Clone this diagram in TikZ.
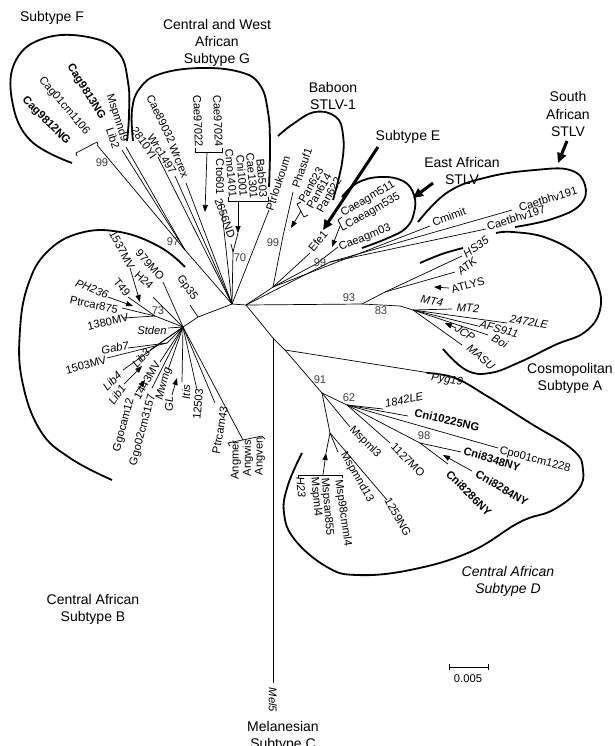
\documentclass[tikz,border=0pt]{standalone}
\usepackage{fontspec}
\setmainfont{Liberation Sans}
\usetikzlibrary{calc,arrows.meta}
\def\leaf{\node[leaf]}
\def\group{\node[group]}
\def\drawclade{\draw[clade]}
\def\drawpoint{\draw[point]}
\def\drawsame{\draw[same]}

\begin{document}
\begin{tikzpicture}[x=0.5pt,y=-0.5pt,
  leaf/.style={font=\fontsize{5.6}{6.5}\selectfont,inner sep=0pt},
  group/.style={font=\fontsize{7}{8.6}\selectfont,align=center,inner sep=0pt},
  boot/.style={font=\fontsize{5.6}{6.5}\selectfont,inner sep=0pt,text=black!75},
  branch/.style={line width=0.35pt},
  clade/.style={line width=0.9pt},
  point/.style={line width=1.5pt,-{Triangle[length=5pt,width=4.5pt]}},
  same/.style={line width=0.35pt,-{Triangle[length=3.5pt,width=2.6pt]}},
  brack/.style={line width=0.35pt}
]
\useasboundingbox (0,0) rectangle (615,746);

% ---------- internal nodes
\coordinate (hub) at (232,304);
\coordinate (hubR) at (246,305);
\coordinate (kinkB) at (198,317);
\coordinate (hubB) at (183,327);
\coordinate (n97) at (185,250);
\coordinate (n99F) at (97,145);
\coordinate (n70) at (233,252);
\coordinate (nE) at (273,287);
\coordinate (n99Bab) at (283,236);
\coordinate (n99EA) at (316,264);
\coordinate (nSA) at (330,262);
\coordinate (n93) at (362,304);
\coordinate (nA1) at (385,292);
\coordinate (n83) at (400,306);
\coordinate (nA2) at (413,310);
\coordinate (nMel) at (273,338);
\coordinate (nPyg) at (285,350);
\coordinate (n91) at (322,393);
\coordinate (n62) at (347,405);
\coordinate (n98) at (420,443);
\coordinate (nMsp) at (330,433);
\coordinate (n73) at (155,316);
\coordinate (nGab) at (167,343);

\draw[branch] (hubB) -- (kinkB) -- (hub) -- (hubR);

% ---------- Subtype F
\coordinate (tipF) at (93,146);
\draw[brack] ($(tipF)+(-17,7)$) -- ($(tipF)+(-16,10)$) ($(tipF)+(-17,7)$) -- ($(tipF)+(4,-4)$) -- ($(tipF)+(5,-1)$);
\draw[branch] (hub) -- (n97) -- (n99F);
\node[boot] (b99F) at (102,163) {99};
\node[boot] (b97) at (173,242) {97};
\leaf[font=\fontsize{5.6}{6.5}\bfseries,rotate=-58] (Cag9813NG) at (86,92) {Cag9813NG};
\leaf[rotate=-50] (Cag01cm1106) at (64,106) {Cag01cm1106};
\leaf[font=\fontsize{5.6}{6.5}\bfseries,rotate=-45] (Cag9812NG) at (46,121) {Cag9812NG};
\coordinate (tipMspmnd9) at (126,147);
\coordinate (tipLib2) at (122,150);
\draw[branch] (n97) -- (tipMspmnd9);
\draw[branch] (n97) -- (tipLib2);
\leaf[rotate=-72] (Mspmnd9) at (117,118) {Mspmnd9};
\leaf[rotate=-72] (Lib2) at (113,138) {Lib2};
\drawclade plot[smooth,tension=0.7] coordinates {(72,163) (30,140) (12,100) (16,60) (45,38) (88,37) (118,52) (128,82) (129,115) (127,141)};
\group (SubF) at (52,18) {Subtype F};

% ---------- Subtype G
\coordinate (tip2810YI) at (158,157);
\coordinate (tipWrc1497) at (175,176);
\coordinate (tipWrcrex) at (186,183);
\coordinate (tipCto601) at (221,203);
\coordinate (tip2656ND) at (231,244);
\coordinate (tipArrG) at (238,233);
\coordinate (tipPtrloukoum) at (269,210);
\draw[branch] (hub) -- (tip2810YI);
\draw[branch] (hub) -- (tipWrc1497);
\draw[branch] (hub) -- (tipWrcrex);
\draw[branch] (hub) -- (tipCto601);
\draw[branch] (hub) -- (n70) -- (tip2656ND);
\draw[branch] (n70) -- (tipArrG);
\draw[branch] (hub) -- (tipPtrloukoum);
\leaf[rotate=-55] (2810YI) at (144,143) {2810YI};
\leaf[rotate=-58] (Wrc1497) at (162,154) {Wrc1497};
\leaf[rotate=-64] (Cae89032) at (161,119) {Cae89032};
\leaf[rotate=-68] (Wrcrex) at (179,161) {Wrcrex};
\leaf[rotate=-88] (Cae97022) at (198,121) {Cae97022};
\leaf[rotate=-88] (Cae97024) at (218,121) {Cae97024};
\leaf[rotate=-90] (Cto601) at (220,177) {Cto601};
\leaf[rotate=-85] (Cmo1401) at (231,173) {Cmo1401};
\leaf[rotate=-85] (Cni1001) at (242,176) {Cni1001};
\leaf[rotate=-85] (Cae1301) at (252,176) {Cae1301};
\leaf[rotate=-85] (Bab503) at (262,178) {Bab503};
\leaf[rotate=-70] (2656ND) at (225,218) {2656ND};
\leaf[rotate=72] (Ptrloukoum) at (278,183) {Ptrloukoum};
\node[boot] (b70) at (240,258) {70};
\coordinate (brG1) at (207,152);
\coordinate (brG2) at (238,201);
\draw[brack] (195,148) -- (195,152) -- (222,152) -- (222,148);
\draw[brack] (228,197) -- (228,201) -- (268,201) -- (268,197);
\drawsame (brG1) -- (205,212);
\drawsame (brG2) -- (tipArrG);
\drawclade plot[smooth,tension=0.7] coordinates {(133,141) (132,110) (140,88) (160,74) (200,68) (240,72) (260,85) (268,112) (270,145) (269,187)};
\group (SubG) at (217,43) {Central and West\\African\\Subtype G};

% ---------- Baboon STLV-1 and Subtype E
\draw[branch] (hubR) -- (nE) -- (n99Bab);
\coordinate (tipPhasuf1) at (293,192);
\coordinate (tipPan) at (291,228);
\draw[branch] (n99Bab) -- (tipPhasuf1);
\node[boot] (b99Bab) at (273,243) {99};
\leaf[rotate=71] (Phasuf1) at (302,168) {Phasuf1};
\leaf[rotate=60] (Pan623) at (311,185) {Pan623};
\leaf[rotate=60] (Pan614) at (319,191) {Pan614};
\leaf[rotate=60] (Pan622) at (329,195) {Pan622};
\draw[brack] (301,202) -- (297,204) -- (304,217) -- (308,215);
\drawsame (301,211) -- (tipPan);
\drawclade plot[smooth,tension=0.7] coordinates {(278,136) (293,124) (315,112) (336,117) (343,135) (342,163) (333,200)};
\group (Baboon) at (333,96) {Baboon\\STLV-1};
\coordinate (tipEfe1) at (310,253);
\draw[branch] (nE) -- (tipEfe1);
\leaf[rotate=50] (Efe1) at (318,241) {Efe1};
\group (SubE) at (408,137) {Subtype E};
\coordinate (ptE) at (378,147);
\drawpoint (ptE) -- (323,230);

% ---------- East and South African STLV
\coordinate (tipCaeagm03) at (338,247);
\draw[branch] (nE) -- (n99EA) -- (tipCaeagm03);
\node[boot] (b99EA) at (320,263) {99};
\leaf[rotate=30] (Caeagm511) at (368,199) {Caeagm511};
\leaf[rotate=30] (Caeagm535) at (373,211) {Caeagm535};
\leaf[rotate=22] (Caeagm03) at (365,238) {Caeagm03};
\draw[brack] (342,217) -- (338,220) -- (343,230) -- (347,228);
\drawsame (340,226) -- (332,247);
\drawclade plot[smooth,tension=0.7] coordinates {(342,197) (357,183) (380,177) (403,181) (414,195) (414,213) (406,228) (388,238) (362,248)};
\group (EastAf) at (462,171) {East African\\STLV};
\coordinate (ptEA) at (433,183);
\drawpoint (ptEA) -- (413,198);
\coordinate (tipCmimit) at (430,226);
\coordinate (tipCaetbhv191) at (512,210);
\coordinate (tipCaetbhv197) at (486,229);
\draw[branch] (nE) -- (tipCmimit);
\draw[branch] (hubR) -- (nSA) -- (tipCaetbhv191);
\draw[branch] (nSA) -- (tipCaetbhv197);
\leaf[rotate=20] (Cmimit) at (449,217) {Cmimit};
\leaf[rotate=17] (Caetbhv191) at (548,199) {Caetbhv191};
\leaf[rotate=17] (Caetbhv197) at (516,218) {Caetbhv197};
\drawclade plot[smooth,tension=0.7] coordinates {(418,222) (448,192) (488,177) (535,170) (570,170) (585,185) (580,205) (552,219) (515,227)};
\group (SouthAf) at (568,114) {South\\African\\STLV};
\coordinate (ptSA) at (567,141);
\drawpoint (ptSA) -- (558,163);

% ---------- Cosmopolitan Subtype A
\draw[branch] (hubR) -- (n93) -- (n83) -- (nA2);
\draw[branch] (n93) -- (nA1);
\node[boot] (b93) at (349,298) {93};
\node[boot] (b83) at (381,311) {83};
\coordinate (tipHS35) at (462,256);
\coordinate (tipATK) at (455,272);
\coordinate (tipMT2) at (452,309);
\coordinate (tip2472LE) at (507,323);
\coordinate (tipAFS911) at (478,326);
\coordinate (tipBoi) at (488,335);
\coordinate (tipMASU) at (462,345);
\draw[branch] (nA1) -- (tipHS35);
\draw[branch] (nA1) -- (tipATK);
\draw[branch] (nA2) -- (tipMT2);
\draw[branch] (nA2) -- (tip2472LE);
\draw[branch] (nA2) -- (tipAFS911);
\draw[branch] (nA2) -- (tipBoi);
\draw[branch] (nA2) -- (tipMASU);
\leaf[font=\fontsize{5.6}{6.5}\itshape,rotate=35] (HS35) at (476,247) {HS35};
\leaf[font=\fontsize{5.6}{6.5}\itshape,rotate=40] (ATK) at (467,266) {ATK};
\leaf[rotate=15] (ATLYS) at (468,285) {ATLYS};
\drawsame (449,288) -- (434,287);
\leaf[font=\fontsize{5.6}{6.5}\itshape,rotate=-12] (MT4) at (432,301) {MT4};
\leaf[font=\fontsize{5.6}{6.5}\itshape,rotate=-3] (MT2) at (468,308) {MT2};
\leaf[font=\fontsize{5.6}{6.5}\itshape,rotate=-10] (2472LE) at (529,322) {2472LE};
\leaf[font=\fontsize{5.6}{6.5}\itshape,rotate=-15] (AFS911) at (499,329) {AFS911};
\leaf[font=\fontsize{5.6}{6.5}\itshape,rotate=-30] (Boi) at (500,341) {Boi};
\leaf[font=\fontsize{5.6}{6.5}\itshape,rotate=-35] (JCP) at (465,333) {JCP};
\drawsame (456,328) -- (445,323);
\leaf[font=\fontsize{5.6}{6.5}\itshape,rotate=-40] (MASU) at (481,357) {MASU};
\drawclade plot[smooth,tension=0.7] coordinates {(420,263) (442,254) (463,248)};
\drawclade plot[smooth,tension=0.7] coordinates {(496,233) (513,232) (547,238) (580,257) (597,283) (600,310) (585,332) (555,345) (520,362) (490,373) (466,370) (443,349)};
\group (Cosmo) at (570,378) {Cosmopolitan\\Subtype A};

% ---------- Pyg19 and Mel5
\draw[branch] (hubR) -- (nMel) -- (nPyg) -- (n91);
\coordinate (tipPyg19) at (430,373);
\coordinate (tipMel5) at (273,683);
\draw[branch] (nPyg) -- (tipPyg19);
\draw[branch] (nMel) -- (tipMel5);
\leaf[font=\fontsize{5.6}{6.5}\itshape,rotate=-9] (Pyg19) at (447,380) {Pyg19};
\leaf[font=\fontsize{5.6}{6.5}\itshape,rotate=-90] (Mel5) at (273,700) {Mel5};
\group (Melan) at (283,736) {Melanesian\\Subtype C};

% ---------- Central African Subtype D
\node[boot] (b91) at (320,380) {91};
\node[boot] (b62) at (349,398) {62};
\node[boot] (b98) at (424,436) {98};
\coordinate (tip1842LE) at (383,409);
\coordinate (tipCni10225NG) at (408,416);
\coordinate (tipCpo01cm1228) at (498,448);
\coordinate (tip1127MO) at (390,443);
\coordinate (tipCni8348NY) at (461,452);
\coordinate (tipCni8286NY) at (448,464);
\coordinate (tipMspml3) at (350,427);
\coordinate (tipMspmnd13) at (338,452);
\coordinate (tip1259NG) at (387,500);
\coordinate (tipMspml4) at (326,453);
\draw[branch] (n91) -- (n62) -- (n98);
\draw[branch] (n62) -- (tip1842LE);
\draw[branch] (n62) -- (tipCni10225NG);
\draw[branch] (n62) -- (tipCpo01cm1228);
\draw[branch] (n62) -- (tip1127MO);
\draw[branch] (n98) -- (tipCni8348NY);
\draw[branch] (n98) -- (tipCni8286NY);
\draw[branch] (n91) -- (tipMspml3);
\draw[branch] (n91) -- (nMsp) -- (tipMspmnd13);
\draw[branch] (nMsp) -- (tip1259NG);
\draw[branch] (nMsp) -- (tipMspml4);
\leaf[font=\fontsize{5.6}{6.5}\itshape,rotate=12] (1842LE) at (404,400) {1842LE};
\leaf[font=\fontsize{5.6}{6.5}\bfseries,rotate=-13] (Cni10225NG) at (447,420) {Cni10225NG};
\leaf[rotate=-15] (Cpo01cm1228) at (535,460) {Cpo01cm1228};
\leaf[font=\fontsize{5.6}{6.5}\bfseries,rotate=-17] (Cni8348NY) at (492,459) {Cni8348NY};
\leaf[font=\fontsize{5.6}{6.5}\bfseries,rotate=-30] (Cni8284NY) at (502,488) {Cni8284NY};
\drawsame (472,471) -- (443,455);
\leaf[font=\fontsize{5.6}{6.5}\bfseries,rotate=-45] (Cni8286NY) at (469,493) {Cni8286NY};
\leaf[rotate=-45] (Mspml3) at (365,442) {Mspml3};
\leaf[rotate=-45] (1127MO) at (408,460) {1127MO};
\leaf[rotate=-60] (Mspmnd13) at (357,477) {Mspmnd13};
\leaf[rotate=-60] (1259NG) at (398,517) {1259NG};
\leaf[rotate=-82] (Msp98cmml4) at (343,513) {Msp98cmml4};
\leaf[rotate=-85] (Mspsan855) at (327,507) {Mspsan855};
\leaf[rotate=-85] (Mspml4) at (316,497) {Mspml4};
\leaf[font=\fontsize{5.6}{6.5}\itshape,rotate=-85] (H23) at (301,487) {H23};
\draw[brack] (298,478) -- (298,475) -- (342,475) -- (342,478);
\drawsame (323,475) -- (tipMspml4);
\drawclade plot[smooth,tension=0.7] coordinates {(427,373) (455,378) (487,396) (530,423) (573,450) (583,470) (578,490) (553,510) (520,522) (470,552) (410,570) (357,575) (327,567) (295,540) (284,513) (288,485) (302,453)};
\group[font=\fontsize{7}{8.6}\itshape] (SubD) at (508,581) {Central African\\Subtype D};

% ---------- Central African Subtype B
\coordinate (tipGp35) at (190,305);
\coordinate (tip979MO) at (163,282);
\coordinate (tipH24) at (153,297);
\coordinate (tipT49) at (128,297);
\coordinate (tipPtrcar875) at (122,308);
\coordinate (tip1380MV) at (123,318);
\coordinate (tipStden) at (168,328);
\coordinate (tipGab7) at (128,348);
\coordinate (tip1503MV) at (107,358);
\coordinate (tipLib3) at (150,350);
\coordinate (tipLib4) at (123,370);
\coordinate (tip1443MV) at (160,362);
\coordinate (tipGgo02cm3157) at (152,388);
\coordinate (tipMwmg) at (168,370);
\coordinate (tipItis) at (182,382);
\coordinate (tip12503) at (197,390);
\coordinate (tipPtrcam43) at (215,403);
\coordinate (tipAng) at (243,440);
\draw[branch] (kinkB) -- (tipGp35);
\draw[branch] (hubB) -- (tip979MO);
\draw[branch] (hubB) -- (tipH24);
\draw[branch] (hubB) -- (n73) -- (tipT49);
\draw[branch] (n73) -- (tipPtrcar875);
\draw[branch] (n73) -- (tip1380MV);
\draw[branch] (hubB) -- (tipStden);
\draw[branch] (hubB) -- (nGab) -- (tipGab7);
\draw[branch] (nGab) -- (tip1503MV);
\draw[branch] (hubB) -- (tipLib3);
\draw[branch] (hubB) -- (tipLib4);
\draw[branch] (hubB) -- (tip1443MV);
\draw[branch] (hubB) -- (tipGgo02cm3157);
\draw[branch] (hubB) -- (tipMwmg);
\draw[branch] (hubB) -- (tipItis);
\draw[branch] (hubB) -- (tip12503);
\draw[branch] (hubB) -- (tipPtrcam43);
\draw[branch] (hubB) -- (tipAng);
\node[boot] (b73) at (158,311) {73};
\leaf[rotate=-62] (1537MV) at (122,250) {1537MV};
\drawsame (130,268) -- (140,302);
\leaf[rotate=-48] (979MO) at (150,265) {979MO};
\leaf[rotate=-55] (Gp35) at (187,288) {Gp35};
\leaf[rotate=-42] (H24) at (144,280) {H24};
\leaf[rotate=-50] (T49) at (122,287) {T49};
\leaf[font=\fontsize{5.6}{6.5}\itshape,rotate=-22] (PH236) at (92,289) {PH236};
\drawsame (108,297) -- (133,306);
\leaf[rotate=-12] (Ptrcar875) at (94,305) {Ptrcar875};
\leaf[rotate=12] (1380MV) at (108,322) {1380MV};
\leaf[font=\fontsize{5.6}{6.5}\itshape] (Stden) at (152,330) {Stden};
\leaf[font=\fontsize{5.6}{6.5}\itshape,rotate=10] (Gab7) at (115,348) {Gab7};
\leaf[rotate=15] (1503MV) at (86,365) {1503MV};
\leaf[font=\fontsize{5.6}{6.5}\itshape,rotate=50] (Lib3) at (141,358) {Lib3};
\leaf[font=\fontsize{5.6}{6.5}\itshape,rotate=45] (Lib4) at (112,381) {Lib4};
\leaf[font=\fontsize{5.6}{6.5}\itshape,rotate=55] (Lib1) at (117,395) {Lib1};
\drawsame (124,384) -- (142,366);
\leaf[rotate=60] (1443MV) at (147,380) {1443MV};
\leaf[rotate=75] (Ggocam12) at (124,425) {Ggocam12};
\drawsame (136,392) -- (145,380);
\leaf[rotate=75] (Ggo02cm3157) at (143,430) {Ggo02cm3157};
\leaf[font=\fontsize{5.6}{6.5}\itshape,rotate=75] (Mwmg) at (164,384) {Mwmg};
\leaf[font=\fontsize{5.6}{6.5}\itshape,rotate=90] (GL) at (169,404) {GL};
\drawsame (172,395) -- (177,378);
\leaf[font=\fontsize{5.6}{6.5}\itshape,rotate=90] (Itis) at (186,392) {Itis};
\leaf[rotate=85] (12503) at (198,404) {12503};
\leaf[rotate=80] (Ptrcam43) at (220,430) {Ptrcam43};
\leaf[rotate=90] (Angmer) at (236,460) {Angmer};
\leaf[rotate=90] (Angwis) at (248,458) {Angwis};
\leaf[rotate=90] (Angven) at (260,456) {Angven};
\draw[brack] (230,446) -- (228,443) -- (262,436) -- (265,439);
\drawclade plot[smooth,tension=0.7] coordinates {(185,267) (160,247) (120,232) (80,233) (47,252) (28,285) (20,330) (22,380) (40,430) (70,458) (112,480)};
\group (SubB) at (93,609) {Central African\\Subtype B};

% ---------- scale bar
\coordinate (sbL) at (449,667);
\coordinate (sbR) at (488,667);
\draw[branch] (sbL) -- (sbR);
\draw[branch] ($(sbL)+(0,-3)$) -- ($(sbL)+(0,3)$);
\draw[branch] ($(sbR)+(0,-3)$) -- ($(sbR)+(0,3)$);
\node[boot,text=black] (scale) at (468,679) {0.005};
\end{tikzpicture}
\end{document}
